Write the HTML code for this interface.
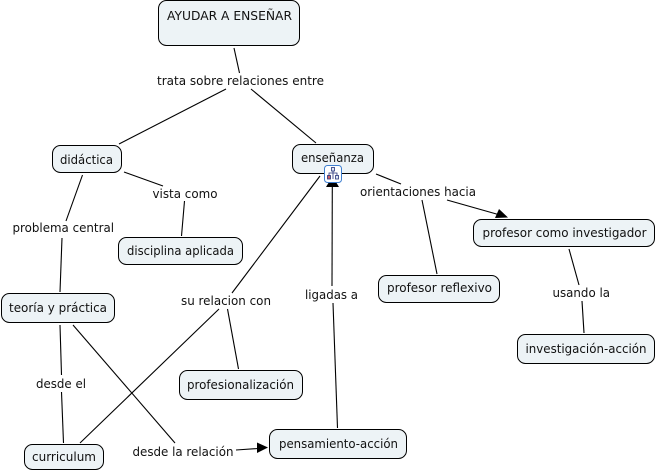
<!DOCTYPE html>
<html><head><meta charset="utf-8"><style>
html,body{margin:0;padding:0;background:#fff;width:657px;height:472px;overflow:hidden}
svg{display:block}
text{font-family:"DejaVu Sans","Liberation Sans",sans-serif;font-size:12px;fill:#111}
rect.n{fill:#edf3f6;stroke:#000;stroke-width:1}
line{stroke:#000;stroke-width:1.1}
</style></head><body>
<svg width="657" height="472" viewBox="0 0 657 472" xmlns="http://www.w3.org/2000/svg">
<line x1="234" y1="48" x2="239.5" y2="73"/>
<line x1="226" y1="89" x2="119" y2="144"/>
<line x1="251" y1="89" x2="316" y2="143"/>
<line x1="124" y1="172" x2="163" y2="186"/>
<line x1="184.5" y1="201" x2="181.5" y2="236"/>
<line x1="82.5" y1="175" x2="66" y2="221"/>
<line x1="62" y1="238" x2="60" y2="292"/>
<line x1="60" y1="325" x2="61.5" y2="375"/>
<line x1="61.5" y1="392" x2="63.5" y2="443"/>
<line x1="73" y1="325" x2="175" y2="443"/>
<line x1="236" y1="450" x2="258" y2="448.5"/>
<polygon points="257,442.5 268,447.5 257,453" fill="#000"/>
<line x1="320" y1="176" x2="232" y2="293"/>
<line x1="219" y1="309" x2="80" y2="443"/>
<line x1="227.5" y1="309" x2="238.5" y2="369"/>
<line x1="337.5" y1="428" x2="333" y2="303"/>
<line x1="332" y1="286" x2="332.3" y2="186"/>
<polygon points="326,187 339,187 336,182 329,182" fill="#000"/>
<line x1="376" y1="174" x2="401" y2="184"/>
<line x1="447" y1="200" x2="500" y2="215"/>
<polygon points="499,209 508,217.5 495,218" fill="#000"/>
<line x1="422" y1="200" x2="437" y2="274"/>
<line x1="569" y1="249" x2="579" y2="285"/>
<line x1="582" y1="301" x2="584" y2="333"/>

<rect class="n" x="158.5" y="0.5" width="141" height="45" rx="8"/>
<rect class="n" x="52.5" y="145.5" width="69" height="27" rx="8"/>
<rect class="n" x="292.5" y="144.5" width="81" height="29" rx="8"/>
<rect class="n" x="118.5" y="237.5" width="124" height="27" rx="8"/>
<rect class="n" x="1.5" y="293.5" width="113" height="29" rx="8"/>
<rect class="n" x="179.5" y="370.5" width="123" height="29" rx="8"/>
<rect class="n" x="24.5" y="444.5" width="79" height="25" rx="8"/>
<rect class="n" x="269.5" y="429.5" width="137" height="29" rx="8"/>
<rect class="n" x="473.5" y="219.5" width="181" height="27" rx="8"/>
<rect class="n" x="378.5" y="275.5" width="121" height="27" rx="8"/>
<rect class="n" x="517.5" y="334.5" width="137" height="29" rx="8"/>

<rect x="324.5" y="165.5" width="17" height="17" rx="3" fill="#fff" stroke="#3f7fd0" stroke-width="1"/>
<rect x="331.5" y="167.500" width="3" height="3.500" fill="#dfe8f5" stroke="#26327a" stroke-width="0.8"/>
<rect x="327.500" y="175.500" width="3" height="3.500" fill="#c9606a" stroke="#26327a" stroke-width="0.8"/>
<rect x="335.500" y="175.500" width="3" height="3.500" fill="#dfe8f5" stroke="#26327a" stroke-width="0.8"/>
<path d="M333 171V179M329 175.500V173H337V175.500" fill="none" stroke="#26327a" stroke-width="0.8"/>

<text x="167" y="20" textLength="125" lengthAdjust="spacingAndGlyphs">AYUDAR A ENSEÑAR</text>
<text x="60" y="164" textLength="53" lengthAdjust="spacingAndGlyphs">didáctica</text>
<text x="301" y="162" textLength="63" lengthAdjust="spacingAndGlyphs">enseñanza</text>
<text x="127" y="255" textLength="107" lengthAdjust="spacingAndGlyphs">disciplina aplicada</text>
<text x="9" y="312" textLength="98" lengthAdjust="spacingAndGlyphs">teoría y práctica</text>
<text x="187" y="389" textLength="107" lengthAdjust="spacingAndGlyphs">profesionalización</text>
<text x="32" y="461" textLength="64" lengthAdjust="spacingAndGlyphs">curriculum</text>
<text x="279" y="448" textLength="119" lengthAdjust="spacingAndGlyphs">pensamiento-acción</text>
<text x="482.5" y="237" textLength="164" lengthAdjust="spacingAndGlyphs">profesor como investigador</text>
<text x="387" y="292" textLength="105" lengthAdjust="spacingAndGlyphs">profesor reflexivo</text>
<text x="525.5" y="353" textLength="121" lengthAdjust="spacingAndGlyphs">investigación-acción</text>

<text x="157" y="85" textLength="167" lengthAdjust="spacingAndGlyphs">trata sobre relaciones entre</text>
<text x="152.5" y="198" textLength="65" lengthAdjust="spacingAndGlyphs">vista como</text>
<text x="12.5" y="232" textLength="101.5" lengthAdjust="spacingAndGlyphs">problema central</text>
<text x="181" y="305" textLength="90" lengthAdjust="spacingAndGlyphs">su relacion con</text>
<text x="305" y="299" textLength="53" lengthAdjust="spacingAndGlyphs">ligadas a</text>
<text x="36" y="388" textLength="50" lengthAdjust="spacingAndGlyphs">desde el</text>
<text x="132.5" y="456" textLength="101" lengthAdjust="spacingAndGlyphs">desde la relación</text>
<text x="360" y="196" textLength="116" lengthAdjust="spacingAndGlyphs">orientaciones hacia</text>
<text x="552.5" y="297" textLength="57.5" lengthAdjust="spacingAndGlyphs">usando la</text>
</svg>
</body></html>
